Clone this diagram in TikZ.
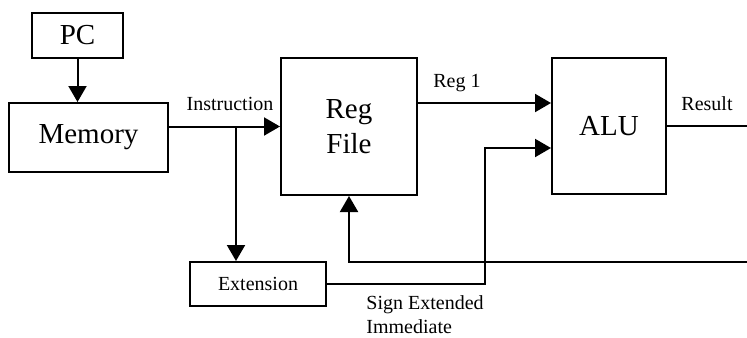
\documentclass[tikz,border=0pt]{standalone}
\usepackage{fontspec}
\setmainfont{Liberation Serif}
\usetikzlibrary{arrows.meta}
\begin{document}
\begin{tikzpicture}[x=0.5pt,y=-0.5pt,
  box/.style={draw,line width=1pt,inner sep=0pt,rectangle},
  big/.style={font=\fontsize{14.5}{17.5}\selectfont},
  small/.style={font=\fontsize{10}{12}\selectfont,inner sep=0pt},
  wire/.style={line width=1pt},
  arr/.style={line width=1pt,-{Triangle[length=8pt,width=9pt]}}]
\useasboundingbox (0,0) rectangle (747,337);
\node[box,big,minimum width=45.5pt,minimum height=22.5pt] (pc) at (77.5,35.5) {PC};
\node[box,big,minimum width=79.5pt,minimum height=34.5pt] (mem) at (88.5,137.5) {Memory};
\node[box,big,minimum width=68pt,minimum height=68.5pt,align=center] (reg) at (349,126.5) {Reg\\File};
\node[box,big,minimum width=57pt,minimum height=68pt] (alu) at (609,126) {ALU};
\node[box,small,minimum width=68pt,minimum height=22pt] (ext) at (258,284) {Extension};
\coordinate (br) at (236,126);
\coordinate (sx) at (485,148);
\coordinate (r1) at (0,103);
\coordinate (res) at (747,126);
\coordinate (fb) at (747,262);
\draw[arr] (pc.south) -- (pc.south |- mem.north);
\draw[arr] (mem.east |- reg.west) -- (reg.west);
\draw[arr] (br) -- (br |- ext.north);
\draw[arr] (ext.east) -| (sx) -- (sx -| alu.west);
\draw[arr] (reg.east |- r1) -- (alu.west |- r1);
\draw[wire] (alu.east |- res) -- (res);
\draw[arr] (fb) -| (reg.south);
\node[small,anchor=base] (lins) at (230,110) {Instruction};
\node[small,anchor=base] (lreg1) at (457,87) {Reg 1};
\node[small,anchor=base] (lres) at (707,110) {Result};
\node[small,anchor=base west] (lsei1) at (366,309) {Sign Extended};
\node[small,anchor=base west] (lsei2) at (366,333) {Immediate};
\end{tikzpicture}
\end{document}
